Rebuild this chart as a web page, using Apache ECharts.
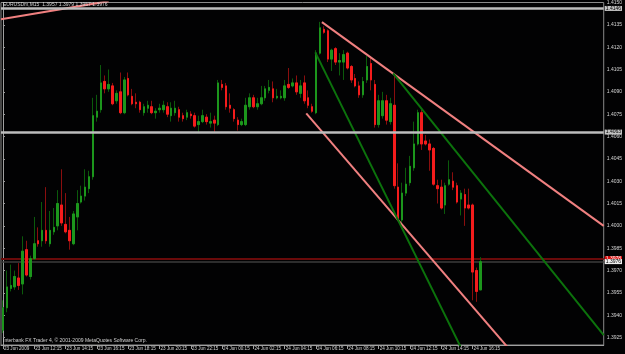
<!DOCTYPE html>
<html><head><meta charset="utf-8">
<script src="https://cdn.jsdelivr.net/npm/echarts@6/dist/echarts.min.js"></script>
<style>html,body{margin:0;padding:0;background:#020203;} #c{width:625px;height:354px;}</style>
</head><body><div id="c"></div>
<script>
const symbolTitle = 'EURUSDm,M15';
const lastQuote = ['1.3957', '1.3979', '1.3957', '1.3976'];
const copyright = 'Interbank FX Trader 4, \u00a9 2001-2009 MetaQuotes Software Corp.';
const timeTickLabels = ['23 Jun 2009','23 Jun 12:15','23 Jun 14:15','23 Jun 16:15','23 Jun 18:15','23 Jun 20:15','23 Jun 22:15','24 Jun 00:15','24 Jun 02:15','24 Jun 04:15','24 Jun 06:15','24 Jun 08:15','24 Jun 10:15','24 Jun 12:15','24 Jun 14:15','24 Jun 16:15'];
const barsPerTick = 8;
const totalSlots = 154;
const priceTicks = [1.4150,1.4135,1.4120,1.4105,1.4090,1.4075,1.4060,1.4045,1.4030,1.4015,1.4000,1.3985,1.3970,1.3955,1.3940,1.3925];

const opens = [
1.3930,1.3945,1.3958,1.3959,1.3965,1.3961,1.3984,1.3966,1.3978,1.3990,
1.3990,1.3997,1.3988,1.3996,1.4000,1.4014,1.4001,1.3997,1.3988,1.4006,
1.4016,1.4020,1.4025,1.4033,1.4073,1.4078,1.4097,1.4092,1.4094,1.4084,
1.4090,1.4076,1.4099,1.4087,1.4083,1.4083,1.4076,1.4079,1.4080,1.4076,
1.4078,1.4078,1.4080,1.4074,1.4076,1.4078,1.4074,1.4073,1.4075,1.4074,
1.4068,1.4070,1.4073,1.4069,1.4071,1.4068,1.4095,1.4094,1.4081,1.4078,
1.4071,1.4068,1.4068,1.4080,1.4086,1.4080,1.4082,1.4086,1.4091,1.4092,
1.4086,1.4086,1.4086,1.4095,1.4094,1.4096,1.4089,1.4096,1.4086,1.4080,
1.4076,1.4116,1.4132,1.4131,1.4112,1.4119,1.4110,1.4110,1.4116,1.4107,
1.4099,1.4094,1.4088,1.4098,1.4109,1.4095,1.4068,1.4074,1.4084,1.4070,
1.4081,1.4026,1.4004,1.4022,1.4029,1.4039,1.4055,1.4076,1.4057,1.4055,
1.4052,1.4027,1.4026,1.4014,1.4028,1.4030,1.4027,1.4018,1.4021,1.4014,
1.4014,1.3970,1.3957];
const closes = [
1.3945,1.3959,1.3960,1.3966,1.3960,1.3983,1.3967,1.3978,1.3988,1.3988,
1.3997,1.3990,1.3997,1.3999,1.4015,1.4002,1.3996,1.3990,1.4008,1.4015,
1.4020,1.4026,1.4033,1.4074,1.4077,1.4096,1.4092,1.4095,1.4082,1.4089,
1.4076,1.4098,1.4088,1.4082,1.4082,1.4078,1.4080,1.4081,1.4076,1.4077,
1.4079,1.4081,1.4075,1.4079,1.4079,1.4073,1.4072,1.4076,1.4074,1.4067,
1.4070,1.4074,1.4070,1.4070,1.4069,1.4096,1.4093,1.4080,1.4079,1.4072,
1.4068,1.4070,1.4081,1.4086,1.4080,1.4082,1.4086,1.4092,1.4093,1.4086,
1.4087,1.4087,1.4094,1.4093,1.4096,1.4090,1.4094,1.4084,1.4081,1.4077,
1.4116,1.4133,1.4130,1.4112,1.4118,1.4110,1.4111,1.4115,1.4106,1.4098,
1.4094,1.4088,1.4097,1.4107,1.4098,1.4068,1.4084,1.4084,1.4071,1.4082,
1.4027,1.4005,1.4022,1.4028,1.4040,1.4055,1.4076,1.4055,1.4055,1.4051,
1.4028,1.4025,1.4012,1.4027,1.4031,1.4026,1.4016,1.4022,1.4012,1.4012,
1.3969,1.3956,1.3976];
const lows = [
1.3928,1.3942,1.3956,1.3957,1.3957,1.3954,1.3966,1.3964,1.3977,1.3986,
1.3986,1.3988,1.3986,1.3994,1.3997,1.4000,1.3995,1.3984,1.3987,1.3997,
1.4015,1.4017,1.4022,1.4031,1.4070,1.4076,1.4089,1.4090,1.4081,1.4082,
1.4075,1.4075,1.4087,1.4081,1.4079,1.4076,1.4074,1.4076,1.4075,1.4072,
1.4076,1.4076,1.4073,1.4070,1.4074,1.4070,1.4070,1.4071,1.4072,1.4066,
1.4063,1.4069,1.4068,1.4066,1.4063,1.4067,1.4091,1.4078,1.4076,1.4070,
1.4064,1.4067,1.4067,1.4078,1.4079,1.4078,1.4081,1.4084,1.4089,1.4083,
1.4085,1.4085,1.4084,1.4092,1.4093,1.4088,1.4086,1.4082,1.4079,1.4076,
1.4075,1.4115,1.4129,1.4110,1.4104,1.4108,1.4101,1.4098,1.4105,1.4096,
1.4093,1.4086,1.4086,1.4096,1.4091,1.4066,1.4066,1.4072,1.4068,1.4068,
1.4025,1.4004,1.4002,1.4020,1.4027,1.4037,1.4054,1.4051,1.4054,1.4037,
1.4027,1.4015,1.4011,1.4008,1.4027,1.4024,1.4015,1.4007,1.4000,1.4011,
1.3950,1.3949,1.3957];
const highs = [
1.3950,1.3970,1.3974,1.3970,1.3975,1.3993,1.3990,1.3980,1.4006,1.3999,
1.4016,1.4026,1.4010,1.4012,1.4024,1.4038,1.4022,1.4006,1.4010,1.4024,
1.4027,1.4038,1.4037,1.4086,1.4088,1.4108,1.4101,1.4105,1.4096,1.4091,
1.4103,1.4100,1.4103,1.4092,1.4089,1.4084,1.4082,1.4084,1.4084,1.4079,
1.4082,1.4084,1.4083,1.4083,1.4084,1.4080,1.4076,1.4078,1.4077,1.4076,
1.4074,1.4078,1.4075,1.4076,1.4074,1.4098,1.4098,1.4096,1.4089,1.4079,
1.4073,1.4072,1.4086,1.4089,1.4088,1.4086,1.4094,1.4094,1.4098,1.4097,
1.4092,1.4091,1.4098,1.4106,1.4099,1.4101,1.4098,1.4101,1.4091,1.4082,
1.4118,1.4137,1.4134,1.4132,1.4119,1.4120,1.4116,1.4118,1.4117,1.4108,
1.4102,1.4097,1.4100,1.4114,1.4114,1.4098,1.4088,1.4090,1.4088,1.4086,
1.4102,1.4042,1.4029,1.4039,1.4047,1.4070,1.4078,1.4078,1.4061,1.4058,
1.4053,1.4031,1.4031,1.4029,1.4044,1.4036,1.4029,1.4024,1.4025,1.4025,
1.4015,1.3972,1.3979];

const levelLines = [1.4146, 1.4063];
const askPrice = 1.3978;
const bidPrice = 1.3976;

// trend lines: [bar index, price]
const trendPinkTopLeft = [[-0.5, 1.41387], [27, 1.41509]];
const trendPinkUpper = [[81.5, 1.41368], [153.5, 1.40000]];
const trendPinkLower = [[77.5, 1.40756], [130, 1.39153]];
const trendGreenSteep = [[79.8, 1.41165], [118, 1.39131]];
const trendGreenUpper = [[99.7, 1.41024], [153.5, 1.39267]];

const categories = Array.from({length: totalSlots}, (_, i) => String(i));
const fullData = opens.map((o, i) => [o, closes[i], lows[i], highs[i]]);
const bodyData = opens.map((o, i) => [o, closes[i], Math.min(o, closes[i]), Math.max(o, closes[i])]);

const fontFam = '"Liberation Sans", Arial, sans-serif';
const txtColor = '#d4d4d4';
const axisColor = '#a0a0a0';
const tickShown = (i) => i % barsPerTick === 0 && (i / barsPerTick) < timeTickLabels.length;

function priceLabel(bg, fg) {
  return {show: true, position: 'end', distance: 1, formatter: p => Number(p.value).toFixed(4),
    color: fg, backgroundColor: bg, fontSize: 5, fontFamily: fontFam, padding: [0, 1, 0, 1], lineHeight: 5};
}
function trend(data, color) {
  return {type: 'line', xAxisIndex: 1, data: data, symbol: 'none', silent: true, clip: true, z: 4,
    lineStyle: {color: color, width: 2}};
}

const chart = echarts.init(document.getElementById('c'), null, {renderer: 'canvas'});
chart.setOption({
  backgroundColor: '#020203',
  animation: false,
  title: [
    {text: symbolTitle + '  ' + lastQuote.join(' '), left: 3, top: 2, padding: 0,
     textStyle: {color: txtColor, fontSize: 5, fontWeight: 'normal', fontFamily: fontFam}},
    {text: copyright, left: 3, top: 338, padding: 0,
     textStyle: {color: txtColor, fontSize: 5, fontWeight: 'normal', fontFamily: fontFam}}
  ],
  grid: {left: 1, right: 19, top: 2, bottom: 9, show: true, borderColor: '#8a8a8a', borderWidth: 1},
  xAxis: [
    {type: 'category', data: categories, boundaryGap: true,
     axisLine: {show: true, lineStyle: {color: axisColor, width: 1}},
     axisTick: {show: true, alignWithLabel: true, interval: tickShown, length: 4, lineStyle: {color: axisColor}},
     axisLabel: {show: true, interval: tickShown, formatter: (v, i) => timeTickLabels[i / barsPerTick] || '',
       align: 'left', margin: 1, color: txtColor, fontSize: 4.6, fontFamily: fontFam, padding: [0, 0, 0, 1]},
     splitLine: {show: false}},
    {type: 'value', min: -0.5, max: totalSlots - 0.5, show: false}
  ],
  yAxis: {type: 'value', position: 'right', min: 1.3920, max: 1.4150,
    axisLine: {show: true, lineStyle: {color: axisColor}},
    axisTick: {show: true, customValues: priceTicks, length: 2, lineStyle: {color: axisColor}},
    axisLabel: {show: true, customValues: priceTicks, formatter: v => v.toFixed(4), margin: 3,
      color: txtColor, fontSize: 5, fontFamily: fontFam},
    splitLine: {show: false}},
  series: [
    {type: 'candlestick', data: fullData, barWidth: 2, silent: true, z: 2,
     itemStyle: {color: '#0b5a0b', color0: '#8a0e0e', borderColor: '#0b5a0b', borderColor0: '#8a0e0e', borderWidth: 1},
     markLine: {silent: true, symbol: ['none', 'none'], z: 1, animation: false, precision: 4,
       data: [
         {yAxis: askPrice, lineStyle: {color: '#6a0a0a', width: 2, type: 'solid'}, label: priceLabel('#e01010', '#ffffff')},
         {yAxis: bidPrice, lineStyle: {color: '#3c3c3c', width: 1.5, type: 'solid'}, label: priceLabel('#f0f0f0', '#000000')}
       ]}},
    {type: 'candlestick', data: bodyData, barWidth: 2, silent: true, z: 3,
     itemStyle: {color: '#1c961c', color0: '#f41c1c', borderColor: '#1c961c', borderColor0: '#f41c1c', borderWidth: 1},
     markLine: {silent: true, symbol: ['none', 'none'], z: 5, animation: false, precision: 4,
       data: levelLines.map(v => ({yAxis: v, lineStyle: {color: '#bdbdbd', width: 2.5, type: 'solid'},
         label: priceLabel('#c4c4c4', '#000000')}))}},
    trend(trendPinkTopLeft, '#f08080'),
    trend(trendPinkUpper, '#f08080'),
    trend(trendPinkLower, '#f08080'),
    trend(trendGreenSteep, '#0c720c'),
    trend(trendGreenUpper, '#0c720c')
  ]
});
</script></body></html>
